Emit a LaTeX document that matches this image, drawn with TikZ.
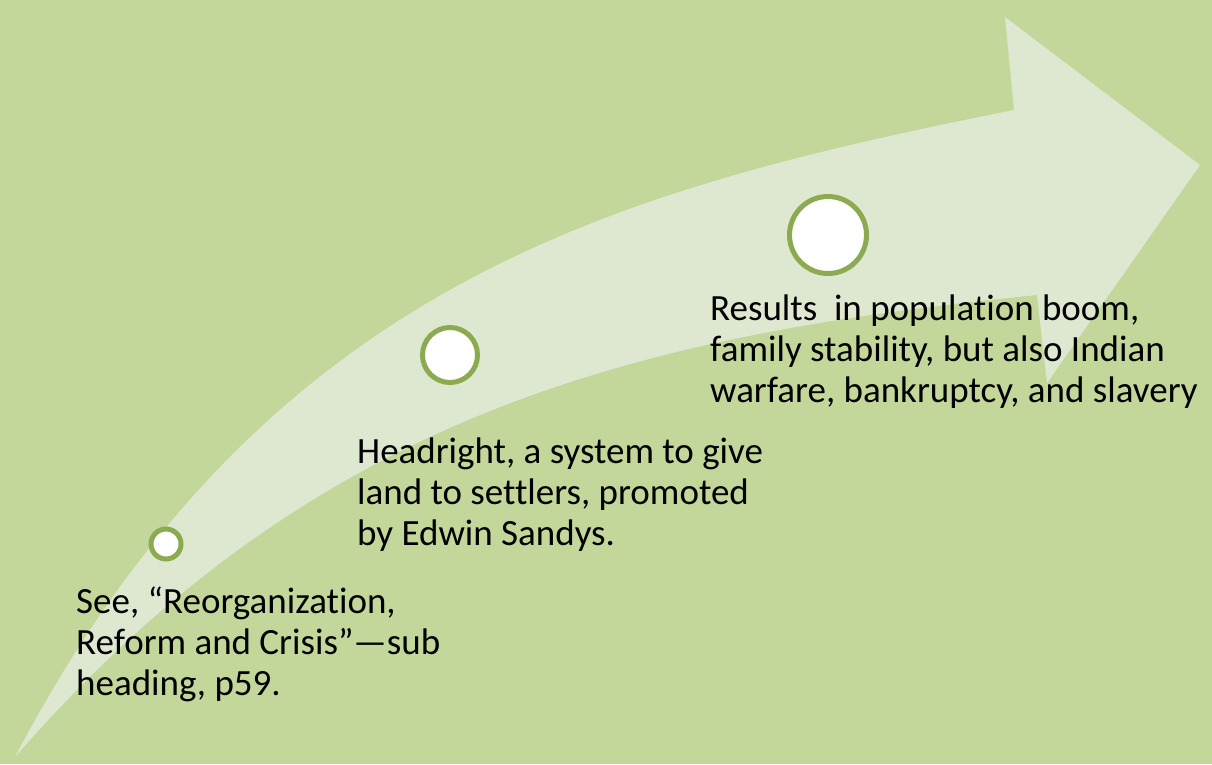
\documentclass[tikz,border=0pt]{standalone}
\usepackage{fontspec}
\setmainfont{Carlito}[Ligatures={NoCommon}]
\definecolor{bg}{HTML}{C4D79B}
\definecolor{arrowfill}{HTML}{DEE7D0}
\definecolor{ring}{HTML}{8CAA50}
\begin{document}
\begin{tikzpicture}[x=1pt,y=-1pt,
  dot/.style={circle,draw=ring,fill=white,line width=5pt,inner sep=0pt},
  label/.style={anchor=base west,inner sep=0pt,align=left,
    font=\fontsize{37}{41}\selectfont,text=black}]
\fill[bg] (0,0) rectangle (1212,764);
\useasboundingbox (0,0) rectangle (1212,764);
% curved arrow
\fill[arrowfill]
  (15,757) .. controls (265,282) and (614,190) .. (1014,110)
  -- (1005,17) -- (1200,165) -- (1047,383) -- (1037,295)
  .. controls (637,335) and (315,412) .. (15,757) -- cycle;
% circles
\node[dot,minimum size=30pt] (c1) at (166,544) {};
\node[dot,minimum size=55pt] (c2) at (450,355) {};
\node[dot,minimum size=77pt] (c3) at (828,235) {};
% texts (anchored at the baseline of their last line)
\node[label] (t1) at (76,695) {See, “Reorganization,\\Reform and Crisis”—sub\\heading, p59.};
\node[label] (t2) at (357,545) {Headright, a system to give\\land to settlers, promoted\\by Edwin Sandys.};
\node[label] (t3) at (710,402) {Results\ \ in population boom,\\family stability, but also Indian\\warfare, bankruptcy, and slavery};
\end{tikzpicture}
\end{document}
